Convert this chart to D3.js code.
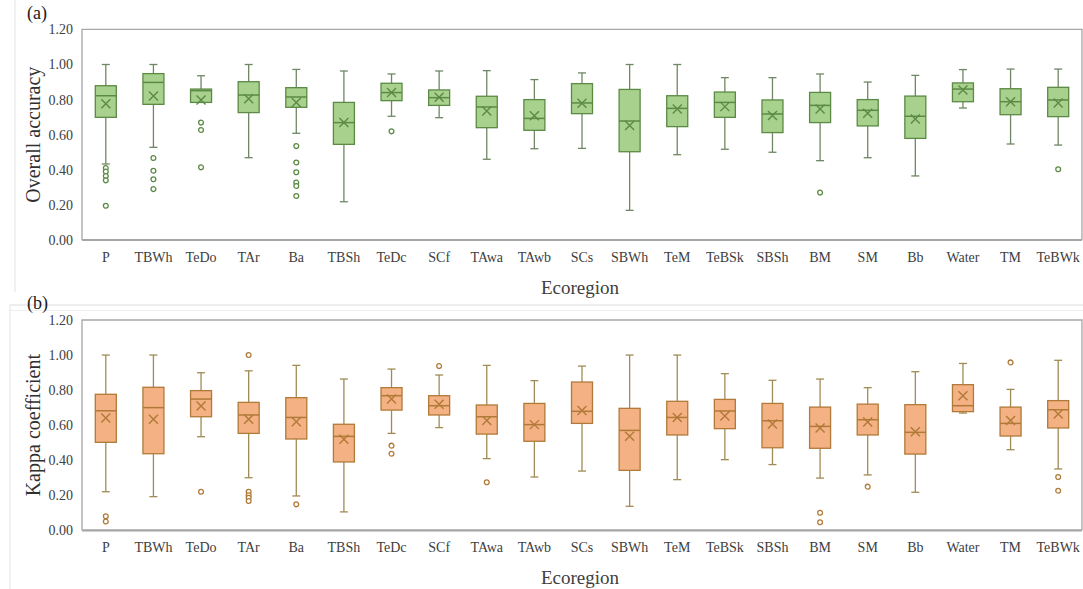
<!DOCTYPE html>
<html><head><meta charset="utf-8">
<script src="https://cdn.jsdelivr.net/npm/d3@7/dist/d3.min.js"></script>
<style>body{margin:0;background:#fff}svg{display:block}text{font-family:"Liberation Serif","Times New Roman",serif}</style>
</head><body><svg id="c" width="1083" height="589"></svg>
<script>
const categories = ["P","TBWh","TeDo","TAr","Ba","TBSh","TeDc","SCf","TAwa","TAwb","SCs","SBWh","TeM","TeBSk","SBSh","BM","SM","Bb","Water","TM","TeBWk"];
const yTicks = [0,0.2,0.4,0.6,0.8,1.0,1.2];

// Overall accuracy: [lowWhisker, Q1, median, Q3, highWhisker, mean]
const oaLow  = [0.433,0.528,0.784,0.469,0.608,0.218,0.705,0.697,0.460,0.520,0.522,0.169,0.486,0.517,0.500,0.452,0.469,0.365,0.752,0.547,0.541];
const oaQ1   = [0.699,0.773,0.784,0.726,0.756,0.545,0.794,0.767,0.640,0.625,0.720,0.503,0.646,0.699,0.612,0.669,0.650,0.579,0.788,0.714,0.703];
const oaMed  = [0.822,0.898,0.851,0.826,0.815,0.669,0.840,0.811,0.758,0.693,0.781,0.678,0.750,0.784,0.718,0.767,0.739,0.705,0.860,0.788,0.798];
const oaQ3   = [0.879,0.948,0.860,0.902,0.868,0.784,0.893,0.855,0.819,0.800,0.891,0.858,0.822,0.843,0.798,0.841,0.800,0.820,0.895,0.862,0.870];
const oaHigh = [1.000,1.000,0.936,1.000,0.972,0.963,0.946,0.963,0.965,0.914,0.952,1.000,1.000,0.925,0.925,0.946,0.900,0.938,0.971,0.974,0.974];
const oaMean = [0.777,0.820,0.798,0.805,0.783,0.669,0.840,0.813,0.735,0.708,0.779,0.653,0.746,0.760,0.710,0.746,0.722,0.689,0.855,0.788,0.781];
const oaOut  = [[0.41,0.39,0.365,0.34,0.195],[0.467,0.395,0.346,0.29],[0.669,0.627,0.414],[],[0.535,0.442,0.386,0.327,0.308,0.251],[],[0.619],[],[],[],[],[],[],[],[],[0.27],[],[],[],[],[0.403]];

// Kappa coefficient
const kLow  = [0.220,0.192,0.534,0.300,0.196,0.105,0.553,0.586,0.409,0.304,0.338,0.137,0.289,0.403,0.375,0.298,0.316,0.217,0.669,0.460,0.350];
const kQ1   = [0.502,0.437,0.648,0.553,0.521,0.390,0.686,0.658,0.549,0.508,0.610,0.342,0.544,0.580,0.471,0.468,0.544,0.435,0.677,0.538,0.584];
const kMed  = [0.682,0.700,0.749,0.658,0.644,0.536,0.768,0.711,0.648,0.603,0.679,0.570,0.644,0.681,0.625,0.593,0.631,0.559,0.711,0.610,0.688];
const kQ3   = [0.776,0.816,0.797,0.730,0.757,0.605,0.814,0.768,0.715,0.724,0.846,0.696,0.736,0.747,0.724,0.703,0.720,0.717,0.831,0.703,0.740];
const kHigh = [1.000,1.000,0.899,0.910,0.941,0.863,0.920,0.886,0.941,0.854,0.937,1.000,1.000,0.894,0.856,0.863,0.814,0.905,0.952,0.804,0.970];
const kMean = [0.641,0.633,0.709,0.633,0.620,0.519,0.749,0.719,0.627,0.603,0.684,0.536,0.644,0.652,0.606,0.584,0.618,0.563,0.768,0.627,0.664];
const kOut  = [[0.08,0.05],[],[0.22],[1.0,0.22,0.20,0.186,0.167],[0.148],[],[0.483,0.437],[0.937],[0.274],[],[],[],[],[],[],[0.10,0.046],[0.249],[],[],[0.958],[0.304,0.226]];

const svg = d3.select("#c");

// light outer panel lines
svg.append("line").attr("x1",15).attr("x2",15).attr("y1",0).attr("y2",292).attr("stroke","#e3e3e3");
svg.append("line").attr("x1",10).attr("x2",1083).attr("y1",305).attr("y2",305).attr("stroke","#dcdcdc");
svg.append("line").attr("x1",10).attr("x2",1083).attr("y1",310.5).attr("y2",310.5).attr("stroke","#efefef");
svg.append("line").attr("x1",10).attr("x2",10).attr("y1",305).attr("y2",589).attr("stroke","#e3e3e3");

function panel(cfg){
  const x = d3.scaleBand().domain(categories).range([82,1082]).padding(0);
  const y = d3.scaleLinear().domain([0,1.2]).range([cfg.y0, cfg.y1]);
  const g = svg.append("g");
  // frame
  g.append("path").attr("d",`M${x.range()[0]},${y(0)}V${y(1.2)}H${x.range()[1]}V${y(0)}`)
    .attr("fill","none").attr("stroke","#a6a6a6").attr("stroke-width",1.3);
  g.append("line").attr("x1",82).attr("x2",1082).attr("y1",y(0)).attr("y2",y(0)).attr("stroke","#a6a6a6").attr("stroke-width",2.2);
  // y axis
  const ya = d3.axisLeft(y).tickValues(yTicks).tickFormat(d3.format(".2f")).tickSize(0).tickPadding(9);
  const ag = g.append("g").attr("transform","translate(82,0)").call(ya);
  ag.select(".domain").remove();
  ag.selectAll("text").attr("font-size",14).attr("fill","#404040").style("font-family","Liberation Serif");
  // x axis labels
  const xa = d3.axisBottom(x).tickSize(0).tickPadding(12);
  const xg = g.append("g").attr("transform",`translate(0,${y(0)})`).call(xa);
  xg.select(".domain").remove();
  xg.selectAll("text").attr("font-size",14).attr("fill","#404040").style("font-family","Liberation Serif");
  // titles
  g.append("text").attr("x",580).attr("y",cfg.xtY).attr("text-anchor","middle").attr("font-size",19).attr("fill","#404040").text("Ecoregion");
  g.append("text").attr("transform",`translate(40,${(y(0)+y(1.2))/2 + cfg.ytOff}) rotate(-90)`).attr("text-anchor","middle").attr("font-size",20).attr("fill","#303030").text(cfg.ytitle);
  g.append("text").attr("x",27).attr("y",cfg.labY).attr("font-size",18).attr("fill","#202020").text(cfg.label);

  const bw = 21, cap = 4;
  const boxes = g.selectAll(".bx").data(categories).join("g")
    .attr("transform",d=>`translate(${x(d)+x.bandwidth()/2},0)`);
  boxes.each(function(d,i){
    const s = d3.select(this);
    s.append("line").attr("y1",y(cfg.low[i])).attr("y2",y(cfg.q1[i])).attr("stroke",cfg.wh).attr("stroke-width",1.3);
    s.append("line").attr("y1",y(cfg.high[i])).attr("y2",y(cfg.q3[i])).attr("stroke",cfg.wh).attr("stroke-width",1.3);
    s.append("line").attr("x1",-cap).attr("x2",cap).attr("y1",y(cfg.low[i])).attr("y2",y(cfg.low[i])).attr("stroke",cfg.wh).attr("stroke-width",1.3);
    s.append("line").attr("x1",-cap).attr("x2",cap).attr("y1",y(cfg.high[i])).attr("y2",y(cfg.high[i])).attr("stroke",cfg.wh).attr("stroke-width",1.3);
    s.append("rect").attr("x",-bw/2).attr("width",bw).attr("y",y(cfg.q3[i])).attr("height",y(cfg.q1[i])-y(cfg.q3[i]))
      .attr("fill",cfg.fill).attr("stroke",cfg.stroke).attr("stroke-width",1.3);
    s.append("line").attr("x1",-bw/2).attr("x2",bw/2).attr("y1",y(cfg.med[i])).attr("y2",y(cfg.med[i])).attr("stroke",cfg.stroke).attr("stroke-width",1.5);
    const m = y(cfg.mean[i]), r = 4.5;
    s.append("path").attr("d",`M${-r},${m-r}L${r},${m+r}M${-r},${m+r}L${r},${m-r}`).attr("stroke",cfg.stroke).attr("stroke-width",1.4);
    s.selectAll(".o").data(cfg.out[i]).join("circle").attr("r",2.4).attr("cy",v=>y(v)).attr("cx",0)
      .attr("fill","#fff").attr("stroke",cfg.stroke).attr("stroke-width",1.3);
  });
}

panel({y0:240,y1:29.4,low:oaLow,q1:oaQ1,med:oaMed,q3:oaQ3,high:oaHigh,mean:oaMean,out:oaOut,
  fill:"#a9d18e",stroke:"#5b8a44",wh:"#6f8764",ytitle:"Overall accuracy",label:"(a)",labY:19,xtY:294,ytOff:0});
panel({y0:530.3,y1:320,low:kLow,q1:kQ1,med:kMed,q3:kQ3,high:kHigh,mean:kMean,out:kOut,
  fill:"#f4b183",stroke:"#b07a38",wh:"#a08b55",ytitle:"Kappa coefficient",label:"(b)",labY:309,xtY:584,ytOff:0});
</script></body></html>
